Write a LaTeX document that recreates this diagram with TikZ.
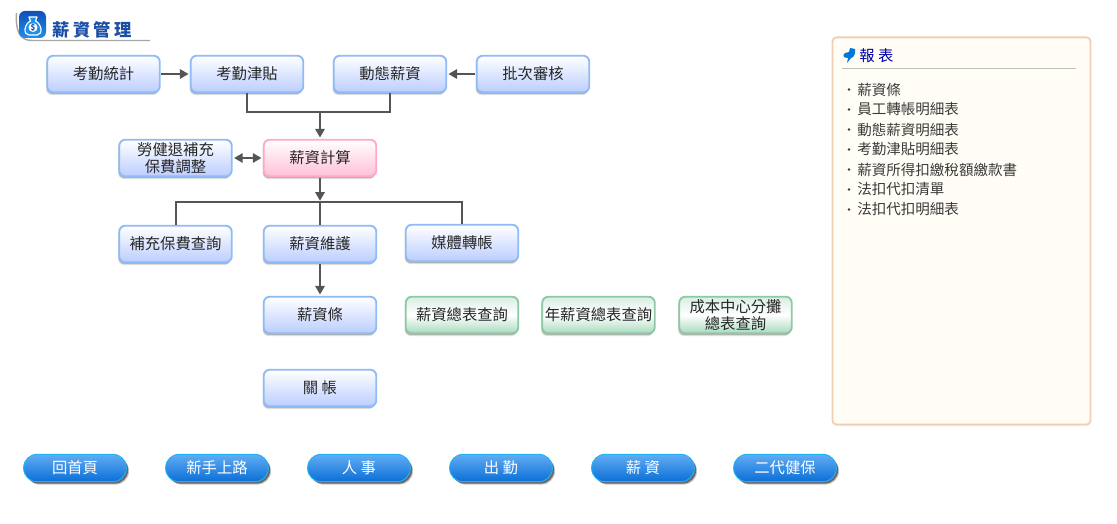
\documentclass[tikz,border=0pt]{standalone}
\usepackage{fontspec}
\setmainfont{Noto Sans CJK TC}
\newfontfamily\headfont[LetterSpace=20]{Noto Sans CJK TC}
\usetikzlibrary{arrows.meta,shadows,fadings}
\definecolor{linkgray}{HTML}{555555}
\definecolor{blueedge}{HTML}{8FBBF6}
\definecolor{bluefoot}{HTML}{BCCEFF}
\definecolor{pinkedge}{HTML}{FFA8C8}
\definecolor{pinkfoot}{HTML}{FFC0D8}
\definecolor{greenedge}{HTML}{8EC9A6}
\definecolor{greenfoot}{HTML}{A8DABF}
\definecolor{panelfill}{HTML}{FFFDF6}
\definecolor{paneledge}{HTML}{F0CFB4}
\definecolor{pillring}{HTML}{1CB4F6}
\definecolor{pilltop}{HTML}{62ACF2}
\definecolor{pillfoot}{HTML}{0A6FD8}
\definecolor{headblue}{HTML}{1B4FA6}
\definecolor{listgray}{HTML}{3A3A3A}
\definecolor{badgedark}{HTML}{0F4FB8}
\definecolor{badgelight}{HTML}{1F8FE8}
\tikzset{
  softshadow/.style={
    drop shadow={shadow xshift=-0.9pt,shadow yshift=-2.1pt,opacity=.16,fill=black!70},
    drop shadow={shadow xshift=-0.5pt,shadow yshift=-1.4pt,opacity=.38,fill=black!60}},
  box/.style={rectangle,rounded corners=4.5pt,line width=1.4pt,
    minimum width=84.4pt,minimum height=27.4pt,inner sep=0pt,align=center,
    text=black!85,font=\fontsize{11.5}{12.6}\selectfont,softshadow},
  bluebox/.style={box,draw=blueedge,top color=white,bottom color=bluefoot},
  pinkbox/.style={box,draw=pinkedge,top color=white,bottom color=pinkfoot},
  greenbox/.style={box,draw=greenedge,top color=greenfoot!45,bottom color=greenfoot,middle color=white},
  pill/.style={rectangle,rounded corners=10pt,line width=0.7pt,draw=pillring,
    top color=pilltop,bottom color=pillfoot,minimum width=77pt,minimum height=20.5pt,
    inner sep=0pt,text=white,font=\fontsize{11.5}{12.6}\selectfont,
    drop shadow={shadow xshift=2pt,shadow yshift=-2.2pt,opacity=.3,fill=black!75},
    drop shadow={shadow xshift=1.3pt,shadow yshift=-1.5pt,opacity=.7,fill=black!75}},
  link/.style={draw=linkgray,line width=1.5pt},
  tip/.style={link,-{Triangle[length=6.5pt,width=7pt]},shorten >=0.9pt,shorten <=0.4pt},
  bothtip/.style={link,{Triangle[length=6.5pt,width=7pt]}-{Triangle[length=6.5pt,width=7pt]},shorten >=1pt,shorten <=1pt},
  listitem/.style={anchor=west,inner sep=0pt,text=listgray,font=\fontsize{10.9}{12}\selectfont},
  listdot/.style={circle,fill=listgray,minimum size=2.2pt,inner sep=0pt},
}
\begin{document}
\begin{tikzpicture}[x=0.75pt,y=-0.75pt]
\useasboundingbox (0,0) rectangle (1117,524);

% section heading with the money-bag badge
\draw[black!35,line width=1.1pt] (16.5,13) .. controls (15.5,30) and (19,40.5) .. (32,40.5) -- (150,40.5);
\shade[top color=badgedark,bottom color=badgelight,rounded corners=4.5pt]
  (19,11) rectangle (46,38);
\draw[white,line width=0.9pt,line join=round,fill=badgelight]
  (29,17) -- (37,17) -- (35.5,21) .. controls (42,24) and (43,35) .. (37,35)
  -- (29,35) .. controls (23,35) and (24,24) .. (30.5,21) -- cycle;
\fill[white] (33,27.5) circle (4.5);
\node[inner sep=0pt,text=badgedark,font=\fontsize{6}{6}\selectfont\bfseries] (bagsign) at (33,27.5) {\$};
\node[inner sep=0pt,text=headblue,font=\headfont\fontsize{13}{14}\selectfont\bfseries,anchor=west] (heading) at (52,30) {薪資管理};

% flow nodes
\node[bluebox] (attstat) at (103.5,74) {考勤統計};
\node[bluebox] (attpay)  at (247,74)   {考勤津貼};
\node[bluebox] (dynpay)  at (390,74)   {動態薪資};
\node[bluebox] (batch)   at (533,74)   {批次審核};
\node[bluebox] (insur)   at (175.5,158) {勞健退補充\\保費調整};
\node[pinkbox] (calc)    at (320,158)  {薪資計算};
\node[bluebox] (suppl)   at (175.5,244) {補充保費查詢};
\node[bluebox] (maint)   at (320,244)  {薪資維護};
\node[bluebox] (media)   at (462,243)  {媒體轉帳};
\node[bluebox] (slip)    at (320,315)  {薪資條};
\node[greenbox] (total)  at (462,315)  {薪資總表查詢};
\node[greenbox] (yearly) at (598.5,315) {年薪資總表查詢};
\node[greenbox] (cost)   at (735.5,315) {成本中心分攤\\總表查詢};
\node[bluebox] (close)   at (320,388)  {關 帳};

% connectors
\coordinate (upperjoin) at (320,112);
\coordinate (lowerjoin) at (320,202);
\draw[tip] (attstat) -- (attpay);
\draw[tip] (batch) -- (dynpay);
\draw[link] (attpay.south) |- (upperjoin) -| (dynpay.south);
\draw[tip] (upperjoin) -- (calc.north);
\draw[bothtip] (insur) -- (calc);
\draw[tip] (calc.south) -- (lowerjoin);
\draw[link] (suppl.north) |- (lowerjoin) -| (media.north);
\draw[link] (lowerjoin) -- (maint.north);
\draw[tip] (maint.south) -- (slip.north);

% report panel
\node[rectangle,draw=paneledge,fill=panelfill,rounded corners=3pt,line width=1.4pt,
  minimum width=193.5pt,minimum height=290.5pt,inner sep=0pt] (panel) at (961.5,231) {};
\draw[black!25,line width=0.6pt] (842,68) -- (1076,68);
\fill[blue!45!cyan!85!black] (850,48) -- (855,49) .. controls (856,52) and (854,58) .. (851,58)
  -- (847,63) -- (848,58) .. controls (843,58) and (842,55) .. (845,53) -- (849,52) -- cycle;
\node[anchor=west,inner sep=0pt,text=blue!65!black,font=\fontsize{11.5}{13}\selectfont] (paneltitle) at (859,56) {報 表};
\foreach \name/\ypos/\entry in {a/89.5/薪資條,b/109.5/員工轉帳明細表,c/129.5/動態薪資明細表,
  d/149.5/考勤津貼明細表,e/169.5/薪資所得扣繳稅額繳款書,f/189.5/法扣代扣清單,g/209.5/法扣代扣明細表}{
  \node[listdot] (dot\name) at (849,\ypos) {};
  \node[listitem] (item\name) at (857,\ypos) {\entry};
}

% navigation buttons
\node[pill] (home)  at (75,468)  {回首頁};
\node[pill] (start) at (217,468) {新手上路};
\node[pill] (hr)    at (359,468) {人 事};
\node[pill] (duty)  at (501,468) {出 勤};
\node[pill] (pay)   at (643,468) {薪 資};
\node[pill] (nhi)   at (785,468) {二代健保};
\end{tikzpicture}
\end{document}
